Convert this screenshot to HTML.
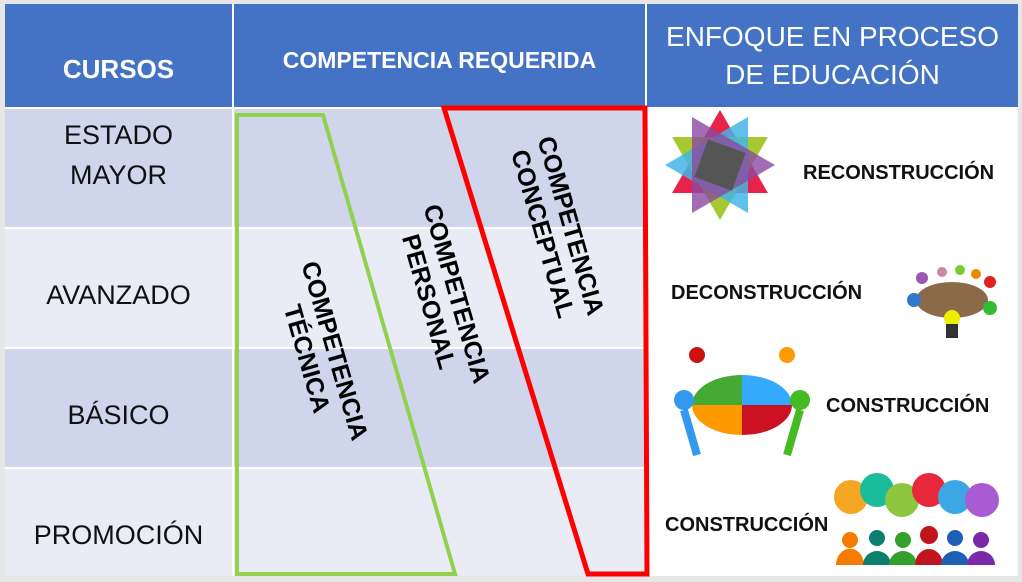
<!DOCTYPE html>
<html><head><meta charset="utf-8"><style>
body{margin:0;width:1022px;height:582px;background:#e6e6e6;position:relative;overflow:hidden;font-family:"Liberation Sans",sans-serif}
.a{position:absolute}
.h{background:#4472c4;color:#fff;display:flex;align-items:center;justify-content:center;text-align:center}
.c{display:flex;align-items:center;justify-content:center;text-align:center;font-size:27px;color:#111;line-height:40px}
.rt{position:absolute;font-weight:bold;font-size:25px;line-height:29px;text-align:center;color:#000;white-space:nowrap;transform:translate(-50%,-50%) rotate(74deg)}
.lb{position:absolute;font-weight:bold;font-size:20px;color:#111}
</style></head><body>
<div class="a" style="left:5px;top:4px;width:1013px;height:572px;background:#fff"></div>
<div class="a h" style="left:5px;top:4px;width:227px;height:103px;font-weight:bold;font-size:26px;padding-top:28px;box-sizing:border-box">CURSOS</div>
<div class="a h" style="left:234px;top:4px;width:411px;height:103px;font-weight:bold;font-size:23px;padding-top:10px;box-sizing:border-box">COMPETENCIA REQUERIDA</div>
<div class="a h" style="left:647px;top:4px;width:371px;height:103px;font-size:28px;line-height:38px">ENFOQUE EN PROCESO<br>DE EDUCACIÓN</div>
<div class="a c" style="left:5px;top:109px;width:227px;height:118px;background:#cfd5ea;padding-bottom:26px;box-sizing:border-box">ESTADO<br>MAYOR</div>
<div class="a" style="left:234px;top:109px;width:411px;height:118px;background:#cfd5ea"></div>
<div class="a c" style="left:5px;top:229px;width:227px;height:118px;background:#e9ebf5;padding-top:14px;box-sizing:border-box">AVANZADO</div>
<div class="a" style="left:234px;top:229px;width:411px;height:118px;background:#e9ebf5"></div>
<div class="a c" style="left:5px;top:349px;width:227px;height:118px;background:#cfd5ea;padding-top:14px;box-sizing:border-box">BÁSICO</div>
<div class="a" style="left:234px;top:349px;width:411px;height:118px;background:#cfd5ea"></div>
<div class="a c" style="left:5px;top:469px;width:227px;height:107px;background:#e9ebf5;padding-top:24px;box-sizing:border-box">PROMOCIÓN</div>
<div class="a" style="left:234px;top:469px;width:411px;height:107px;background:#e9ebf5"></div>
<svg class="a" style="left:0;top:0" width="1022" height="582">
<polygon points="237,115 323,115 455,574 237,574" fill="none" stroke="#92d050" stroke-width="4"/>
<polygon points="444,108 645,108 647,574 588,574" fill="none" stroke="#ff0000" stroke-width="5"/>
<g transform="translate(720,165)">
<polygon points="0,-55 48,28 -48,28" fill="#e8234a"/>
<polygon points="0,55 -48,-28 48,-28" fill="#9bc31c" opacity=".9"/>
<polygon points="-55,0 28,-48 28,48" fill="#43b5e5" opacity=".85"/>
<polygon points="55,0 -28,48 -28,-48" fill="#8a4aa0" opacity=".8"/>
<polygon points="-20,-20 20,-20 20,20 -20,20" fill="#555" transform="rotate(20)"/>
</g>
<g transform="translate(952,300)">
<ellipse cx="0" cy="0" rx="36" ry="18" fill="#8b6a4a"/>
<circle cx="-30" cy="-22" r="6" fill="#9b59b6"/><circle cx="-10" cy="-28" r="5" fill="#c8a"/>
<circle cx="8" cy="-30" r="5" fill="#7c3"/><circle cx="24" cy="-26" r="5" fill="#e80"/>
<circle cx="38" cy="-18" r="6" fill="#d22"/><circle cx="-38" cy="0" r="7" fill="#37c"/>
<circle cx="38" cy="8" r="7" fill="#3b3"/><circle cx="0" cy="18" r="8" fill="#ee0"/>
<rect x="-6" y="24" width="12" height="14" fill="#333"/>
</g>
<g transform="translate(742,405)">
<path d="M0,0 L-50,0 A50,30 0 0 1 0,-30Z" fill="#4a3"/>
<path d="M0,0 L0,-30 A50,30 0 0 1 50,0Z" fill="#3af"/>
<path d="M0,0 L50,0 A50,30 0 0 1 0,30Z" fill="#c12"/>
<path d="M0,0 L0,30 A50,30 0 0 1 -50,0Z" fill="#f90"/>
<circle cx="-58" cy="-5" r="10" fill="#39e"/><circle cx="58" cy="-5" r="10" fill="#4b2"/>
<circle cx="-45" cy="-50" r="8" fill="#c11"/><circle cx="45" cy="-50" r="8" fill="#f90"/>
<path d="M-58,5 L-45,50" stroke="#39e" stroke-width="8"/><path d="M58,5 L45,50" stroke="#4b2" stroke-width="8"/>
</g>
<g>
<circle cx="851" cy="497" r="17" fill="#f5a623"/><circle cx="877" cy="490" r="17" fill="#1abc9c"/>
<circle cx="902" cy="500" r="17" fill="#8dc63f"/><circle cx="929" cy="490" r="17" fill="#e8283a"/>
<circle cx="955" cy="497" r="17" fill="#3ba7e5"/><circle cx="982" cy="500" r="17" fill="#a95bd4"/>
<path d="M836,565 a12,14 0 0 1 28,0Z" fill="#f57c00"/><circle cx="850" cy="540" r="8" fill="#f57c00"/>
<path d="M863,565 a14,14 0 0 1 28,0Z" fill="#0a7f6e"/><circle cx="877" cy="538" r="8" fill="#0a7f6e"/>
<path d="M889,565 a14,14 0 0 1 28,0Z" fill="#33a02c"/><circle cx="903" cy="540" r="8" fill="#33a02c"/>
<path d="M915,565 a14,16 0 0 1 28,0Z" fill="#c0141e"/><circle cx="929" cy="535" r="9" fill="#c0141e"/>
<path d="M941,565 a14,14 0 0 1 28,0Z" fill="#1d5fb5"/><circle cx="955" cy="538" r="8" fill="#1d5fb5"/>
<path d="M967,565 a14,14 0 0 1 28,0Z" fill="#7a2aa8"/><circle cx="981" cy="540" r="8" fill="#7a2aa8"/>
</g>
</svg>
<div class="rt" style="left:320px;top:355px">COMPETENCIA<br>TÉCNICA</div>
<div class="rt" style="left:442px;top:298px">COMPETENCIA<br>PERSONAL</div>
<div class="rt" style="left:556px;top:230px">COMPETENCIA<br>CONCEPTUAL</div>
<div class="lb" style="left:803px;top:162px">RECONSTRUCCIÓN</div>
<div class="lb" style="left:671px;top:282px">DECONSTRUCCIÓN</div>
<div class="lb" style="left:826px;top:395px">CONSTRUCCIÓN</div>
<div class="lb" style="left:665px;top:514px">CONSTRUCCIÓN</div>
</body></html>
